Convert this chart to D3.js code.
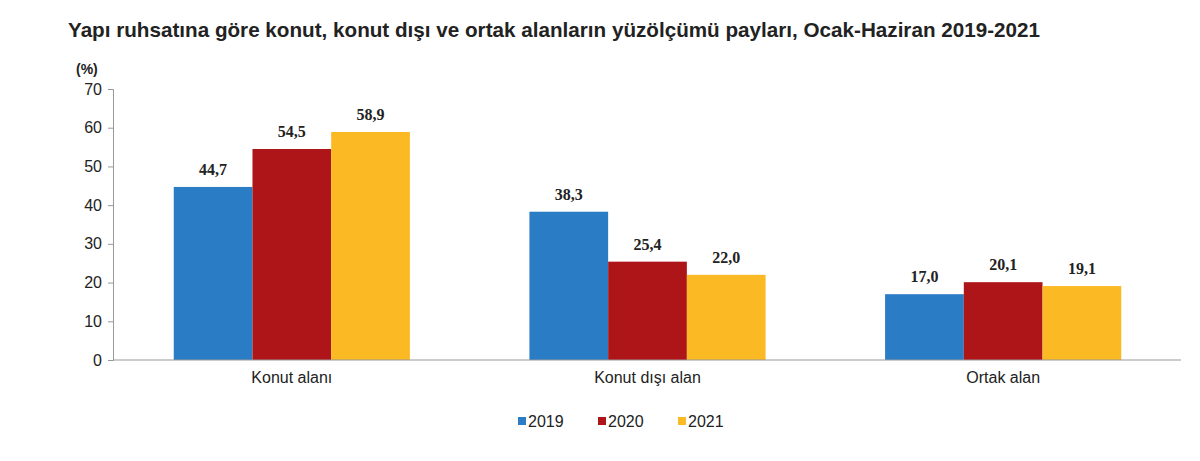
<!DOCTYPE html>
<html><head><meta charset="utf-8">
<script src="https://cdn.jsdelivr.net/npm/d3@7"></script>
<style>body{margin:0;background:#fff}</style>
</head><body>
<svg width="1200" height="461"></svg>
<script>
var categories = ["Konut alanı", "Konut dışı alan", "Ortak alan"];
var years = ["2019", "2020", "2021"];
var values2019 = [44.7, 38.3, 17.0];
var values2020 = [54.5, 25.4, 20.1];
var values2021 = [58.9, 22.0, 19.1];
var yTicks = [0, 10, 20, 30, 40, 50, 60, 70];
var colors = ["#2a7cc4", "#ad1519", "#fbb924"];

var series = [values2019, values2020, values2021];
var svg = d3.select("svg");

svg.append("text").attr("x", 68).attr("y", 37)
    .attr("font-family", "Arial, 'Liberation Sans', sans-serif")
    .attr("font-size", "20.5px").attr("font-weight", "bold").attr("fill", "#222")
    .attr("textLength", 972).attr("lengthAdjust", "spacingAndGlyphs")
    .text("Yapı ruhsatına göre konut, konut dışı ve ortak alanların yüzölçümü payları, Ocak-Haziran 2019-2021");

var x = d3.scaleBand().domain(categories).range([114, 1181]).paddingInner(0.336).paddingOuter(0.168);
var xs = d3.scaleBand().domain(years).range([0, x.bandwidth()]);
var y = d3.scaleLinear().domain([0, 70]).range([360, 89]);

var g = svg.append("g");

// y axis
var ya = g.append("g").attr("transform", "translate(113,0)")
    .call(d3.axisLeft(y).tickValues(yTicks).tickSize(5).tickPadding(6));
ya.selectAll("path,line").attr("stroke", "#999");
ya.selectAll("text").attr("font-family", "Arial, 'Liberation Sans', sans-serif").attr("font-size", "16px").attr("fill", "#222");

svg.append("text").attr("x", 76).attr("y", 74)
    .attr("font-family", "Arial, 'Liberation Sans', sans-serif")
    .attr("font-size", "14px").attr("font-weight", "bold").attr("fill", "#222").text("(%)");

// bars
years.forEach(function (yr, k) {
    g.selectAll(".bar" + k).data(series[k]).enter().append("rect")
        .attr("x", function (d, i) { return x(categories[i]) + xs(yr); })
        .attr("y", function (d) { return y(d); })
        .attr("width", xs.bandwidth())
        .attr("height", function (d) { return y(0) - y(d); })
        .attr("fill", colors[k]);
    g.selectAll(".lbl" + k).data(series[k]).enter().append("text")
        .attr("x", function (d, i) { return x(categories[i]) + xs(yr) + xs.bandwidth() / 2; })
        .attr("y", function (d) { return y(d) - 12; })
        .attr("text-anchor", "middle")
        .attr("font-family", "'Liberation Serif', 'Times New Roman', serif")
        .attr("font-size", "16px").attr("font-weight", "bold").attr("fill", "#222")
        .text(function (d) { return d.toFixed(1).replace(".", ","); });
});

// x axis
var xa = g.append("g").attr("transform", "translate(0,360)")
    .call(d3.axisBottom(x).tickSize(0).tickPadding(12));
xa.select("path").attr("stroke", "#999").attr("d", "M113,0H1181");
xa.selectAll("text").attr("font-family", "Arial, 'Liberation Sans', sans-serif").attr("font-size", "16px").attr("fill", "#222");

// legend
var lx = [518, 598, 678];
years.forEach(function (yr, k) {
    svg.append("rect").attr("x", lx[k]).attr("y", 417).attr("width", 8).attr("height", 8).attr("fill", colors[k]);
    svg.append("text").attr("x", lx[k] + 10).attr("y", 427)
        .attr("font-family", "Arial, 'Liberation Sans', sans-serif").attr("font-size", "16px").attr("fill", "#222")
        .text(yr);
});
</script>
</body></html>
